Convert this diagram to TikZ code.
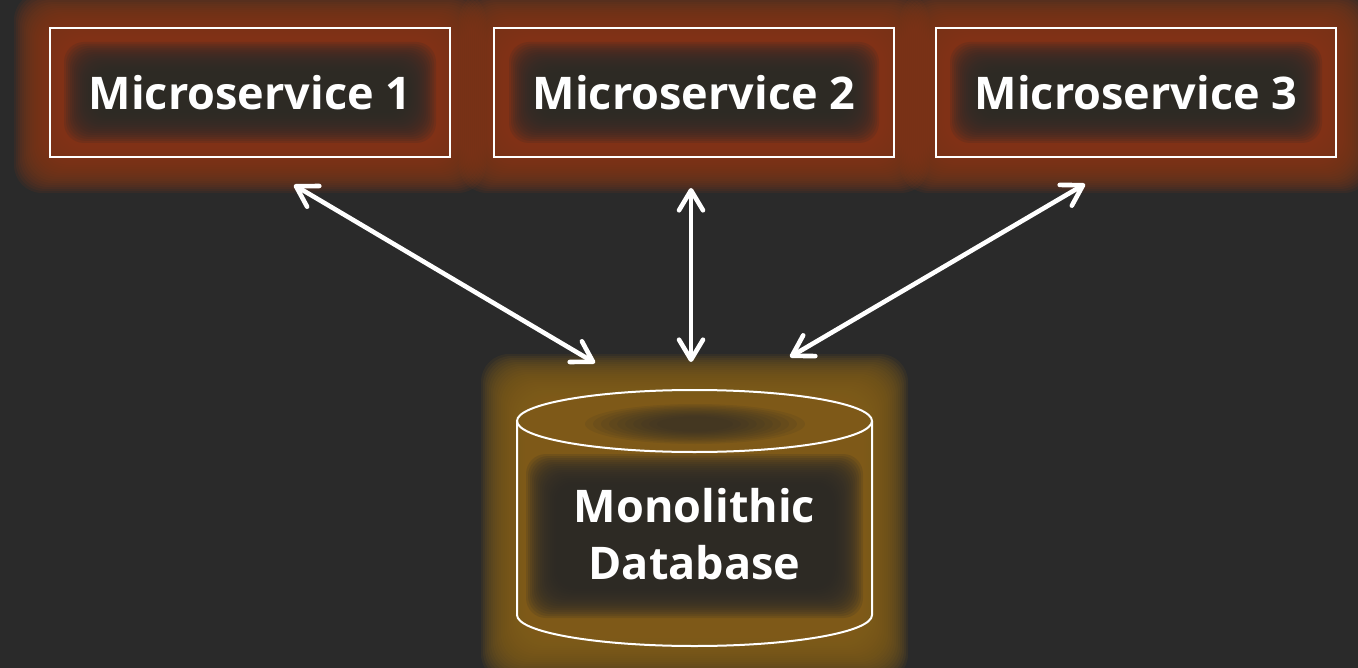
\documentclass[tikz,border=0pt]{standalone}
\usepackage{fontspec}
\setmainfont{Open Sans}
\usetikzlibrary{arrows.meta}
\definecolor{bg}{HTML}{2A2A2A}
\definecolor{glowO}{HTML}{873816}
\definecolor{glowG}{HTML}{856018}
\tikzset{
  msbox/.style={draw=white, line width=0.75pt, minimum width=200pt, minimum height=64.5pt, text=white, font=\bfseries\fontsize{22.5}{27}\selectfont, inner sep=0pt},
  dbtext/.style={text=white, font=\bfseries\fontsize{22.5}{28.5}\selectfont, align=center, inner sep=0pt},
  conn/.style={draw=white, line width=2.3pt, line cap=round, line join=round,
    {Straight Barb[length=10pt,width=12pt,line cap=round,line join=round]}-{Straight Barb[length=10pt,width=12pt,line cap=round,line join=round]}},
  cyl/.style={draw=white, line width=1pt}
}
% glow: x1 y1 x2 y2 colour
\newcommand\myglow[5]{%
  \foreach \e in {36,34,...,-16}{\fill[#5, fill opacity=0.13, rounded corners=14pt] ({#1-\e},{#2-\e}) rectangle ({#3+\e},{#4+\e});}%
}
\newcommand\mydark[4]{%
  \foreach \s in {14,16,...,44}{\fill[bg, fill opacity=0.16, rounded corners=10pt] ({#1+\s},{#2+\s}) rectangle ({#3-\s},{#4-\s});}%
}
\begin{document}
\begin{tikzpicture}[x=0.5pt,y=-0.5pt]
\useasboundingbox (0,0) rectangle (1358,668);
\fill[bg] (0,0) rectangle (1358,668);
% glows
\myglow{50}{28}{450}{157}{glowO}
\myglow{495}{28}{893}{157}{glowO}
\myglow{936}{28}{1336}{157}{glowO}
\myglow{517}{390}{872}{646}{glowG}
\mydark{50}{28}{450}{157}
\mydark{495}{28}{893}{157}
\mydark{936}{28}{1336}{157}
\mydark{512}{440}{877}{632}
\foreach \s in {0,1,...,9}{\fill[bg, fill opacity=0.1] (695,424) ellipse [x radius={55pt-\s*4pt}, y radius={10pt-\s*0.7pt}];}
% boxes
\node[msbox] (ms1) at (250,92.5) {Microservice 1};
\node[msbox] (ms2) at (694,92.5) {Microservice 2};
\node[msbox] (ms3) at (1136,92.5) {Microservice 3};
% cylinder
\draw[cyl] (694.5,421) ellipse [x radius=88.75pt, y radius=15.5pt];
\draw[cyl] (517,421) -- (517,615) arc[start angle=180, end angle=360, x radius=88.75pt, y radius=15.5pt] -- (872,421);
\node[dbtext] (db) at (694.5,534) {Monolithic\\Database};
% connectors
\coordinate (a1s) at (294,185); \coordinate (a1e) at (595,363);
\coordinate (a2s) at (691,188); \coordinate (a2e) at (691,362);
\coordinate (a3s) at (1085,184); \coordinate (a3e) at (790,357);
\draw[conn] (a1s) -- (a1e);
\draw[conn] (a2s) -- (a2e);
\draw[conn] (a3s) -- (a3e);
\end{tikzpicture}
\end{document}
